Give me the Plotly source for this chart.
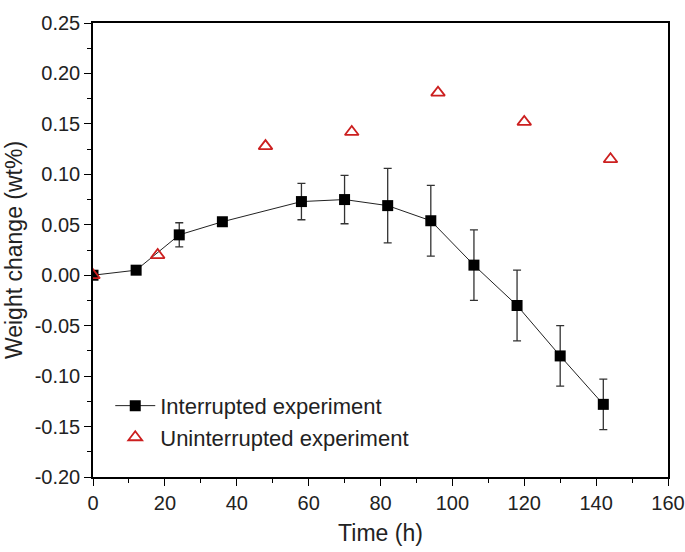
import plotly.graph_objects as go

# Interrupted experiment
int_time = [0, 12, 24, 36, 58, 70, 82, 94, 106, 118, 130, 142]
int_weight = [0.0, 0.005, 0.040, 0.053, 0.073, 0.075, 0.069, 0.054, 0.010, -0.030, -0.080, -0.128]
int_err = [0.0, 0.0, 0.012, 0.0, 0.018, 0.024, 0.037, 0.035, 0.035, 0.035, 0.030, 0.025]

# Uninterrupted experiment
unint_time = [0, 18, 48, 72, 96, 120, 144]
unint_weight = [0.0, 0.020, 0.128, 0.142, 0.181, 0.152, 0.115]

x_ticks = [0, 20, 40, 60, 80, 100, 120, 140, 160]
y_ticks = [-0.20, -0.15, -0.10, -0.05, 0.00, 0.05, 0.10, 0.15, 0.20, 0.25]

FONT = "Liberation Sans, Arial"

fig = go.Figure()
fig.add_trace(go.Scatter(
    x=int_time, y=int_weight, mode="lines+markers",
    name="Interrupted experiment",
    line=dict(color="#222222", width=1),
    marker=dict(symbol="square", size=11, color="black"),
    error_y=dict(type="data", array=int_err, visible=True, color="#333333",
                 thickness=1.3, width=4),
))
fig.add_trace(go.Scatter(
    x=unint_time, y=unint_weight, mode="markers",
    name="Uninterrupted experiment",
    marker=dict(symbol="triangle-up-open", size=12, color="#cc1f1f",
                line=dict(width=1.8, color="#cc1f1f")),
))

axis_common = dict(
    showline=True, linecolor="black", linewidth=1.5, mirror=True,
    ticks="outside", ticklen=7, tickwidth=1.3, tickcolor="black",
    showgrid=False, zeroline=False,
    ticklabeloverflow="allow",
    tickfont=dict(family=FONT, size=20, color="#222"),
)

fig.update_xaxes(
    range=[0, 160], tickvals=x_ticks, ticktext=[str(v) for v in x_ticks],
    minor=dict(dtick=10, tick0=0, ticks="outside", ticklen=4, tickwidth=1.2, tickcolor="black"),
    title=dict(text="Time (h)", font=dict(family=FONT, size=23, color="#222"), standoff=12),
    automargin=False,
    **axis_common,
)
fig.update_yaxes(
    range=[-0.20, 0.25], tickvals=y_ticks, ticktext=[f"{v:.2f}" for v in y_ticks],
    minor=dict(dtick=0.025, tick0=0, ticks="outside", ticklen=4, tickwidth=1.2, tickcolor="black"),
    title=dict(text="Weight change (wt%)", font=dict(family=FONT, size=23, color="#222"), standoff=6),
    automargin=True,
    **axis_common,
)

fig.update_layout(
    width=685, height=552,
    margin=dict(l=93, r=17, t=16, b=75),
    paper_bgcolor="white", plot_bgcolor="white",
    showlegend=True,
    legend=dict(x=0.03, y=0.203, xanchor="left", yanchor="top",
                bgcolor="rgba(0,0,0,0)",
                font=dict(family=FONT, size=22, color="#222"),
                tracegroupgap=0, itemwidth=40),
)

fig.write_html("out.html", config={"displayModeBar": False},
               post_script="document.body.style.margin='0';")
